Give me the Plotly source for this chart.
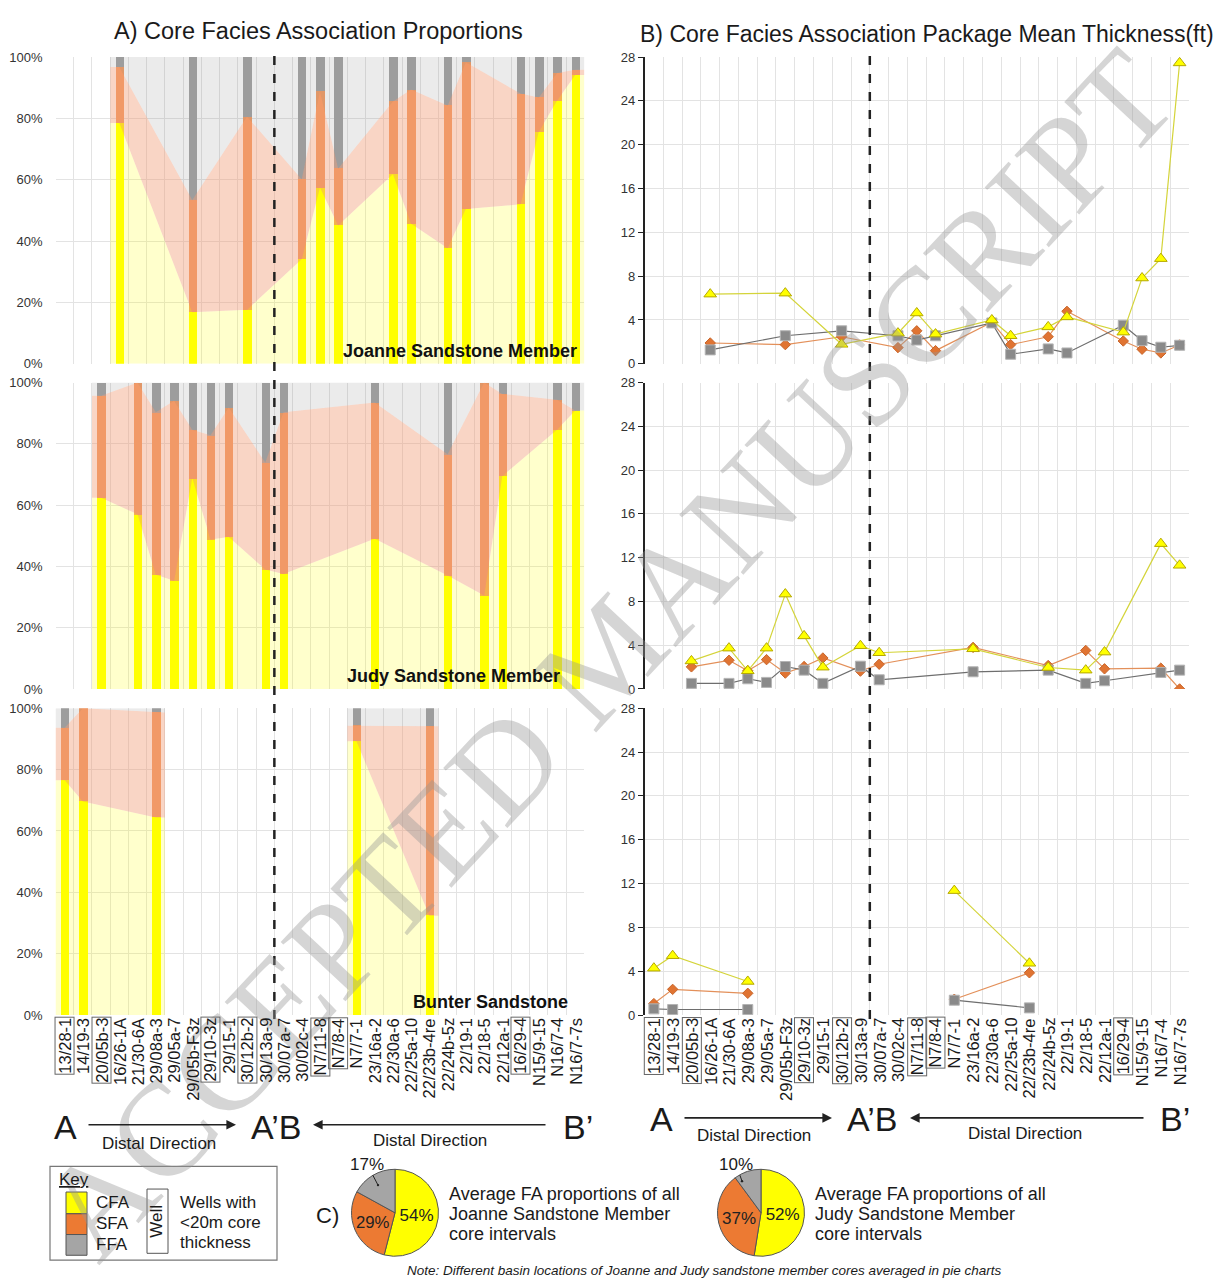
import plotly.graph_objects as go

W, H = 1217, 1287
FONT = "Arial, Liberation Sans, sans-serif"

# ---------------- data ----------------
wells = ["13/28-1", "14/19-3", "20/05b-3", "16/26-1A", "21/30-6A", "29/08a-3", "29/05a-7",
         "29/05b-F3z", "29/10-3z", "29/15-1", "30/12b-2", "30/13a-9", "30/07a-7", "30/02c-4",
         "N7/11-8", "N7/8-4", "N7/7-1", "23/16a-2", "22/30a-6", "22/25a-10", "22/23b-4re",
         "22/24b-5z", "22/19-1", "22/18-5", "22/12a-1", "16/29-4", "N15/9-15", "N16/7-4", "N16/7-7s"]
boxed_wells = ["13/28-1", "20/05b-3", "29/10-3z", "30/12b-2", "N7/11-8", "N7/8-4", "16/29-4"]
split_after = "30/13a-9"   # A'B boundary

# Joanne Sandstone Member
joanne_wells = ["16/26-1A", "29/05b-F3z", "30/12b-2", "30/02c-4", "N7/11-8", "N7/8-4", "22/30a-6",
                "22/25a-10", "22/24b-5z", "22/19-1", "16/29-4", "N15/9-15", "N16/7-4", "N16/7-7s"]
joanne_segment = [1] * 14
joanne_cfa_pct = [78.5, 16.8, 17.6, 34.1, 57.4, 45.1, 61.8, 45.7, 37.7, 50.5, 52.0, 75.7, 85.8, 94.2]
joanne_sfa_pct = [18.3, 36.6, 63.0, 26.1, 31.5, 18.6, 23.7, 43.7, 46.5, 47.8, 36.1, 11.1, 9.0, 1.7]
joanne_ffa_pct = [3.2, 46.6, 19.4, 39.8, 11.1, 36.3, 14.5, 10.6, 15.8, 1.7, 11.9, 13.2, 5.2, 4.1]
joanne_cfa_ft = [6.36, 6.45, 1.78, 2.8, 4.64, 2.71, 4.0, 2.56, 3.37, 4.28, 2.89, 7.83, 9.6, 27.47]
joanne_sfa_ft = [1.9, 1.75, 2.47, 1.48, 3.01, 1.2, 3.8, 1.75, 2.47, 4.79, 2.08, 1.33, 0.99, 1.72]
joanne_ffa_ft = [1.27, 2.56, 3.01, 2.56, 2.17, 2.56, 3.73, 0.87, 1.36, 0.99, 3.52, 2.11, 1.51, 1.69]

# Judy Sandstone Member
judy_wells = ["20/05b-3", "21/30-6A", "29/08a-3", "29/05a-7", "29/05b-F3z", "29/10-3z", "29/15-1",
              "30/13a-9", "30/07a-7", "23/16a-2", "22/24b-5z", "22/18-5", "22/12a-1", "N16/7-4", "N16/7-7s"]
judy_segment = [1] * 15
judy_cfa_pct = [62.4, 57.0, 37.3, 35.3, 68.8, 48.8, 49.6, 39.0, 37.5, 49.0, 37.0, 30.5, 69.5, 84.6, 90.9]
judy_sfa_pct = [33.3, 43.0, 53.0, 58.8, 15.8, 34.0, 42.3, 34.9, 52.8, 44.5, 39.6, 69.5, 26.8, 9.8, 0.0]
judy_ffa_pct = [4.3, 0.0, 9.7, 5.9, 15.4, 17.2, 8.1, 26.1, 9.7, 6.5, 23.4, 0.0, 3.7, 5.6, 9.1]
judy_cfa_ft = [2.56, 3.73, 1.66, 3.73, 8.67, 4.85, 1.99, 3.95, 3.31, 3.67, 1.96, 1.72, 3.37, 13.28, 11.3]
judy_sfa_ft = [2.02, 2.62, 1.66, 2.68, 1.45, 2.05, 2.83, 1.63, 2.26, 3.8, 2.14, 3.52, 1.84, 1.9, 0.0]
judy_ffa_ft = [0.51, 0.51, 0.93, 0.6, 2.05, 1.72, 0.51, 2.08, 0.84, 1.57, 1.72, 0.51, 0.75, 1.51, 1.72]

# Bunter Sandstone
bunter_wells = ["13/28-1", "14/19-3", "29/08a-3", "N7/7-1", "22/23b-4re"]
bunter_segment = [1, 1, 1, 2, 2]
bunter_cfa_pct = [76.5, 69.6, 64.4, 89.2, 32.4]
bunter_sfa_pct = [17.1, 30.4, 34.2, 5.1, 61.7]
bunter_ffa_pct = [6.4, 0.0, 1.4, 5.7, 5.9]
bunter_cfa_ft = [4.28, 5.42, 3.07, 11.36, 4.73]
bunter_sfa_ft = [1.05, 2.35, 1.99, 1.45, 3.86]
bunter_ffa_ft = [0.57, 0.51, 0.51, 1.36, 0.66]

member_names = ["Joanne Sandstone Member", "Judy Sandstone Member", "Bunter Sandstone"]

# pie chart averages (%)
pie_labels = ["CFA", "SFA", "FFA"]
joanne_avg = [54, 29, 17]
judy_avg = [52, 37, 10]

# ---------------- style ----------------
C_CFA, C_SFA, C_FFA = "#FFFF00", "#F29B63", "#A3A3A3"
A_CFA, A_SFA, A_FFA = "rgba(255,255,0,0.2)", "rgba(240,150,110,0.4)", "rgba(128,128,128,0.16)"
GRID = "#E3E3E3"

members = [
    (joanne_wells, joanne_segment, joanne_cfa_pct, joanne_sfa_pct, joanne_ffa_pct,
     joanne_cfa_ft, joanne_sfa_ft, joanne_ffa_ft),
    (judy_wells, judy_segment, judy_cfa_pct, judy_sfa_pct, judy_ffa_pct,
     judy_cfa_ft, judy_sfa_ft, judy_ffa_ft),
    (bunter_wells, bunter_segment, bunter_cfa_pct, bunter_sfa_pct, bunter_ffa_pct,
     bunter_cfa_ft, bunter_sfa_ft, bunter_ffa_ft),
]

fig = go.Figure()

# pixel layout
LX0, LX1 = 55.5, 584.4
RX0, RX1 = 644.5, 1189.0
ROWS = [(50.7, 361.0), (380.0, 690.0), (709.5, 1020.0)]


def py(p):
    return 1 - p / H


def px(p):
    return p / W


n = len(wells)
bounds = [i - 0.5 for i in range(n + 1)]
layout_axes = {}
for r, (top, bot) in enumerate(ROWS):
    li = r + 1
    ri = r + 4
    for k, (x0, x1) in ((li, (LX0, LX1)), (ri, (RX0, RX1))):
        layout_axes[f"xaxis{k}"] = dict(
            domain=[px(x0), px(x1)], range=[-0.5, n - 0.5], anchor=f"y{k}",
            tickmode="array", tickvals=bounds, showticklabels=False, ticks="",
            showgrid=True, gridcolor=GRID, gridwidth=1, zeroline=False, showline=False,
            fixedrange=True)
    layout_axes[f"yaxis{li}"] = dict(
        domain=[py(bot), py(top)], range=[0, 100], anchor=f"x{li}",
        tickmode="array", tickvals=[0, 20, 40, 60, 80, 100],
        ticktext=[f"{v}%" for v in [0, 20, 40, 60, 80, 100]],
        tickfont=dict(size=13, color="#333", family=FONT), ticklabelstandoff=12,
        showgrid=True, gridcolor=GRID, zeroline=False, showline=False)
    layout_axes[f"yaxis{ri}"] = dict(
        domain=[py(bot), py(top)], range=[0, 28], anchor=f"x{ri}",
        tickmode="linear", tick0=0, dtick=4,
        tickfont=dict(size=13, color="#333", family=FONT),
        showgrid=True, gridcolor=GRID, zeroline=False,
        showline=True, linecolor="#222", linewidth=1.5,
        ticks="outside", ticklen=5, tickcolor="#222", tickwidth=1.2)


def seg_split(segs):
    groups = []
    for i, s in enumerate(segs):
        if not groups or segs[groups[-1][0]] != s:
            groups.append([i])
        else:
            groups[-1].append(i)
    return groups


for r, (mw, mseg, cp, sp, fp, cf, sf, ff) in enumerate(members):
    xa, ya = f"x{r + 1}", f"y{r + 1}"
    xb, yb = f"x{r + 4}", f"y{r + 4}"
    xi = [wells.index(w) for w in mw]
    # ---- area bands (left) ----
    for g in seg_split(mseg):
        gx = [xi[i] for i in g]
        ext_x = [gx[0] - 0.5] + gx + [gx[-1] + 0.5]
        c_top = [cp[i] for i in g]
        s_top = [cp[i] + sp[i] for i in g]
        f_top = [cp[i] + sp[i] + fp[i] for i in g]
        for ys, col, fill in ((c_top, A_CFA, "tozeroy"), (s_top, A_SFA, "tonexty"),
                              (f_top, A_FFA, "tonexty")):
            fig.add_trace(go.Scatter(
                x=ext_x, y=[ys[0]] + ys + [ys[-1]], mode="lines", line=dict(width=0),
                fill=fill, fillcolor=col, xaxis=xa, yaxis=ya, hoverinfo="skip",
                showlegend=False))
    # ---- stacked bars (left) ----
    for vals, col, name in ((cp, C_CFA, "CFA"), (sp, C_SFA, "SFA"), (fp, C_FFA, "FFA")):
        fig.add_trace(go.Bar(x=xi, y=vals, width=0.46, marker=dict(color=col, line=dict(width=0)),
                             xaxis=xa, yaxis=ya, name=name, showlegend=False))
    # ---- thickness lines (right) ----
    groups = seg_split(mseg)
    for vals, lcol, sym, mcol, mline, size in (
            (sf, "#E3905A", "diamond", "#E07432", "#C8652A", 8),
            (ff, "#6E6E6E", "square", "#8A8A8A", "#B4B4B4", 10),
            (cf, "#D4D43A", "triangle-up", "#FFFF00", "#B5A800", 11)):
        lx, ly = [], []
        for gi, g in enumerate(groups):
            if gi:
                lx.append(None)
                ly.append(None)
            lx += [xi[i] for i in g]
            ly += [vals[i] for i in g]
        fig.add_trace(go.Scatter(
            x=lx, y=ly, mode="lines+markers", line=dict(color=lcol, width=1.2),
            marker=dict(symbol=sym, color=mcol, size=size, line=dict(color=mline, width=1)),
            xaxis=xb, yaxis=yb, showlegend=False, connectgaps=False))

# ---------------- pies ----------------
PIE_COLORS = ["#FFFF00", "#EC7A33", "#A5A5A5"]
for vals, cx in ((joanne_avg, 395), (judy_avg, 761)):
    r = 44
    fig.add_trace(go.Pie(
        values=vals, labels=pie_labels, sort=False, direction="clockwise", rotation=0,
        marker=dict(colors=PIE_COLORS, line=dict(color="#555", width=1)),
        text=[f"{v}%" for v in vals], textinfo="text",
        textposition=["inside", "inside", "none"], insidetextorientation="horizontal",
        textfont=dict(size=17, color="#222", family=FONT),
        domain=dict(x=[px(cx - r), px(cx + r)], y=[py(1220 + r), py(1220 - r)]),
        showlegend=False, hoverinfo="label+percent"))

# ---------------- annotations ----------------
ann = []


def text(x, y, s, size=17, xanchor="center", yanchor="middle", **kw):
    d = dict(x=px(x), y=py(y), xref="paper", yref="paper", text=s, showarrow=False,
             xanchor=xanchor, yanchor=yanchor,
             font=dict(size=size, color=kw.pop("color", "#1a1a1a"), family=kw.pop("family", FONT)))
    d.update(kw)
    ann.append(d)


def arrow(xs, ys, xe, ye, label="", head=2, size=1.2, width=1.6, fsize=17):
    ann.append(dict(x=px(xe), y=py(ye), xref="paper", yref="paper", ax=xs - xe, ay=ys - ye,
                    axref="pixel", ayref="pixel", text=label, showarrow=True, arrowhead=head,
                    arrowsize=size, arrowwidth=width, arrowcolor="#222", standoff=0,
                    font=dict(size=fsize, color="#1a1a1a", family=FONT)))


# watermark (drawn first so other texts sit above it)
text(608, 655, "ACCEPTED MANUSCRIPT", size=134, textangle=-47,
     color="rgba(150,150,150,0.40)", family="Liberation Serif, Times New Roman, serif")

text(318, 24, "A) Core Facies Association Proportions", size=23.5)
text(927, 27, "B) Core Facies Association Package Mean Thickness(ft)", size=23)

# member labels
for (name, (top, bot), xr) in zip(member_names, ROWS, (579, 562, 570)):
    text(xr, bot - 13, f"<b>{name}</b>", size=18, xanchor="right", color="#111")

# well tick labels, boxed where core < 20 m
for axn in ("x3", "x6"):
    for i, w in enumerate(wells):
        ann.append(dict(
            x=i, xref=axn, y=py(1022), yref="paper", text=w, showarrow=False, textangle=-90,
            xanchor="center", yanchor="top", font=dict(size=16.5, color="#1a1a1a", family=FONT),
            bordercolor="#666" if w in boxed_wells else "rgba(0,0,0,0)", borderwidth=1, borderpad=0))

# A / A'B / B' direction labels
for (xa_, xab, xb_, y0, arr1, arr2, dd1, dd2) in (
        (65, 276, 578, 1133, (87, 236, 1131), (547, 313, 1131), (159, 1150), (430, 1147)),
        (661, 872, 1175, 1125, (683, 832, 1124), (1145, 910, 1124), (754, 1142), (1025, 1140))):
    text(xa_, y0, "A", size=34)
    text(xab, y0, "A’B", size=34)
    text(xb_, y0, "B’", size=34)
    for (xs, xe, yy) in (arr1, arr2):
        arrow(xs, yy, xe, yy)
    text(dd1[0], dd1[1], "Distal Direction", size=17)
    text(dd2[0], dd2[1], "Distal Direction", size=17)

# key
text(57, 1186, "<u>Key</u>", size=17, xanchor="left")
for lab, yy in zip(pie_labels, (1210, 1231, 1252)):
    text(94, yy, lab, size=17, xanchor="left")
text(157, 1229, "Well", size=17, textangle=-90)
for s, yy in (("Wells with", 1210), ("&lt;20m core", 1230), ("thickness", 1250)):
    text(178, yy, s, size=17, xanchor="left")

# pie captions
text(327, 1223, "C)", size=22)
arrow(367, 1171, 378, 1192, label=f"{joanne_avg[2]}%", head=6, size=0.6, width=1)
arrow(736, 1171, 742, 1188, label=f"{judy_avg[2]}%", head=6, size=0.6, width=1)
for x0, nm in ((447, "Joanne"), (813, "Judy")):
    text(x0, 1201, "Average FA proportions of all", size=18, xanchor="left")
    text(x0, 1221, f"{nm} Sandstone Member", size=18, xanchor="left")
    text(x0, 1241, "core intervals", size=18, xanchor="left")
text(704, 1278, "<i>Note: Different basin locations of Joanne and Judy sandstone member cores averaged in pie charts</i>",
     size=13.5)

# ---------------- shapes ----------------
shapes = []
for xr_ in ("x3", "x6"):
    xv = wells.index(split_after) + 0.5
    shapes.append(dict(type="line", xref=xr_, yref="paper", x0=xv, x1=xv,
                       y0=py(1024), y1=py(46), line=dict(color="#222", width=2.5, dash="dash")))
# key box and swatches
shapes.append(dict(type="rect", xref="paper", yref="paper", x0=px(50), x1=px(277), y0=py(1268), y1=py(1173),
                   line=dict(color="#777", width=1.2), fillcolor="rgba(255,255,255,0)"))
for col, (y0, y1) in zip(PIE_COLORS, ((1199, 1221), (1221, 1242), (1242, 1263))):
    shapes.append(dict(type="rect", xref="paper", yref="paper", x0=px(66), x1=px(87), y0=py(y1), y1=py(y0),
                       line=dict(color="#555", width=1), fillcolor=col))
shapes.append(dict(type="rect", xref="paper", yref="paper", x0=px(147), x1=px(168), y0=py(1261), y1=py(1196),
                   line=dict(color="#555", width=1), fillcolor="rgba(255,255,255,0)"))

fig.update_layout(
    width=W, height=H, margin=dict(l=0, r=0, t=0, b=0), autosize=False,
    paper_bgcolor="white", plot_bgcolor="white", barmode="stack", bargap=0,
    showlegend=False, annotations=ann, shapes=shapes, font=dict(family=FONT),
    **layout_axes)

fig.write_html("out.html")
